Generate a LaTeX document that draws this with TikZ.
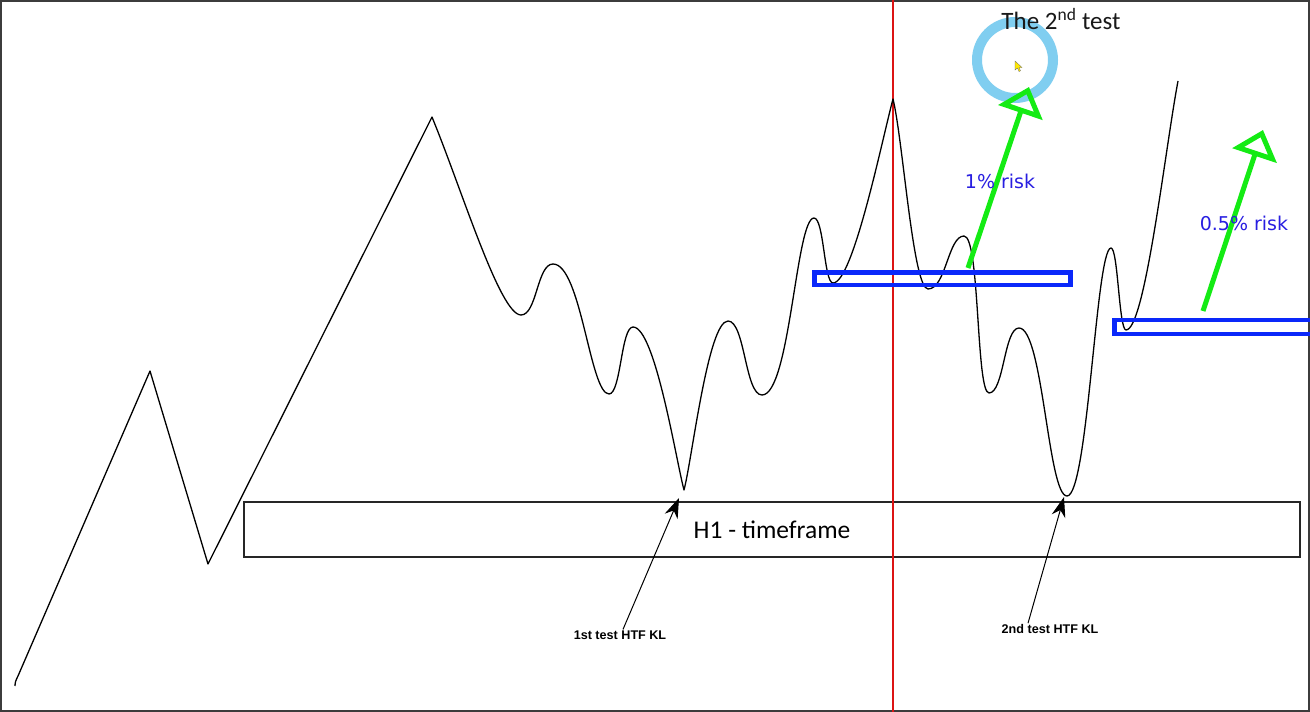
\documentclass[tikz,border=0pt]{standalone}
\usepackage{fontspec}
\setmainfont{Carlito}
\newfontfamily\labelfont{Liberation Sans}
\newfontfamily\riskfont{DejaVu Sans}
\usetikzlibrary{arrows.meta}
\definecolor{ringblue}{RGB}{128,206,240}
\definecolor{zoneblue}{RGB}{10,40,250}
\definecolor{riskblue}{RGB}{40,30,225}
\definecolor{lime}{RGB}{20,235,20}
\definecolor{redline}{RGB}{220,20,20}
\definecolor{framegray}{RGB}{60,60,60}
\tikzset{
  price/.style={line width=1.3pt, black, line join=round},
  zone/.style={draw=zoneblue, line width=4.5pt},
  riskarrow/.style={draw=lime, line width=5pt, -{Triangle[open, length=27pt, width=46pt]}},
  riskText/.style={text=riskblue, font=\riskfont\fontsize{19}{22}\selectfont, inner sep=0pt},
  kl/.style={font=\labelfont\bfseries\fontsize{12.6}{14}\selectfont, inner sep=1pt},
  klarrow/.style={draw=black, line width=1pt, -{Stealth[length=20pt, width=14pt]}},
}
\begin{document}
\begin{tikzpicture}[x=1pt, y=-1pt]
\useasboundingbox (0,0) rectangle (1310,712);
\fill[white] (0,0) rectangle (1310,712);
% frame
\draw[framegray, line width=1.6pt] (0.8,0.8) rectangle (1309.2,711.2);

% H1 box
\node[draw=black!85, line width=1.3pt, minimum width=1056pt, minimum height=55pt, inner sep=0pt,
      font=\fontsize{25.5}{28}\selectfont] (h1) at (772,529.5) {H1 - timeframe};

% red vertical line
\draw[redline, line width=1.8pt] (893,0) -- (893,712);

% price path
\draw[price] (18,676) .. controls (16,680) and (15,682) .. (15,686);
\draw[price] (18,676) -- (150,371) -- (208,564) -- (432,117)
  .. controls (462,190) and (500,315) .. (521,315)
  .. controls (537,315) and (537,264) .. (553,264)
  .. controls (581,264) and (590,394) .. (609,394)
  .. controls (621,394) and (621,327) .. (633,327)
  .. controls (655,327) and (676,460) .. (684,490)
  .. controls (692,460) and (708,321) .. (728,321)
  .. controls (745,321) and (745,395) .. (762,395)
  .. controls (790,395) and (796,218) .. (814,218)
  .. controls (824,218) and (824,283) .. (833,283)
  .. controls (853,283) and (882,140) .. (893,99)
  .. controls (903,140) and (913,289) .. (928,289)
  .. controls (946,289) and (948,236) .. (964,236)
  .. controls (980,236) and (976,393) .. (989,393)
  .. controls (1004,393) and (1004,328) .. (1019,328)
  .. controls (1043,328) and (1048,496) .. (1067,496)
  .. controls (1088,496) and (1096,248) .. (1111,248)
  .. controls (1118,248) and (1119,330) .. (1126,330)
  .. controls (1145,330) and (1165,150) .. (1178,81);

% blue zones
\draw[zone] (814.5,272.5) rectangle (1070.5,285) node[pos=0, inner sep=0pt] (z1) {};
\draw[zone] (1114.5,320) rectangle (1320,334) node[pos=0, inner sep=0pt] (z2) {};

% ring and cursor
\node[circle, draw=ringblue, line width=10pt, minimum size=76pt, inner sep=0pt] (ring) at (1015,60) {};
\filldraw[fill=yellow!90!orange, draw=black!60, line width=0.3pt]
  (1015,61) -- (1015,70) -- (1017.5,68) -- (1019,71.5) -- (1020.5,70.8) -- (1019,67.5) -- (1022,67.5) -- cycle;
\node[font=\fontsize{25}{28}\selectfont, text=black!90, inner sep=0pt] (title) at (1061,19) {The 2\textsuperscript{nd} test};

% green risk arrows
\coordinate (g1s) at (968,268);
\coordinate (g1e) at (1029,87);
\coordinate (g2s) at (1203,311);
\coordinate (g2e) at (1263,130);
\draw[riskarrow] (g1s) -- (g1e);
\draw[riskarrow] (g2s) -- (g2e);
\node[riskText] (r1) at (1000,181) {1\% risk};
\node[riskText] (r2) at (1244,223) {0.5\% risk};

% HTF KL labels
\node[kl] (kl1) at (620,635) {1st test HTF KL};
\node[kl] (kl2) at (1050,629) {2nd test HTF KL};
\coordinate (t1) at (679,498);
\coordinate (t2) at (1064,497);
\draw[klarrow] ([xshift=3pt]kl1.north) -- (t1);
\draw[klarrow] ([xshift=-22pt]kl2.north) -- (t2);
\end{tikzpicture}
\end{document}
